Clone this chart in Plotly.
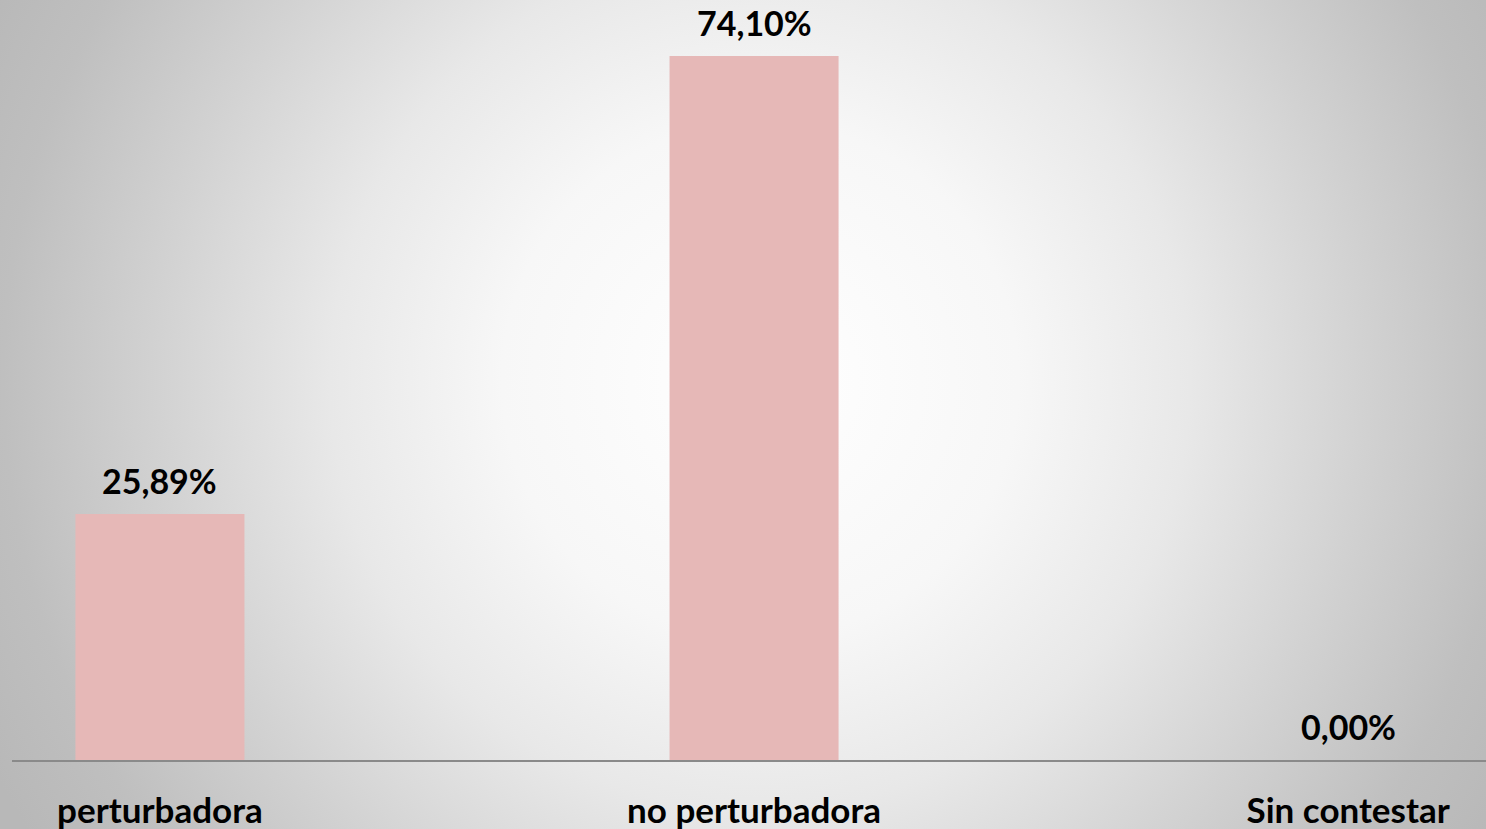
import base64
import plotly.graph_objects as go

categories = ["perturbadora", "no perturbadora", "Sin contestar"]
values = [25.89, 74.10, 0.00]

W, H = 1486, 829
ML, MR, MT, MB = 12, 0, 0, 69
FONT = "Lato"
BAR_COLOR = "#E6B8B7"

labels = [f"{v:.2f}".replace(".", ",") + "%" for v in values]

svg = f'''<svg xmlns="http://www.w3.org/2000/svg" width="{W}" height="{H}" viewBox="0 0 {W} {H}">
<defs><radialGradient id="g" gradientUnits="userSpaceOnUse" cx="760" cy="380" r="860">
<stop offset="0" stop-color="#FFFFFF"/>
<stop offset="0.3" stop-color="#F7F7F7"/>
<stop offset="0.5" stop-color="#E8E8E8"/>
<stop offset="0.7" stop-color="#D2D2D2"/>
<stop offset="0.88" stop-color="#BFBFBF"/>
<stop offset="1" stop-color="#B8B8B8"/>
</radialGradient></defs>
<rect x="0" y="0" width="{W}" height="{H}" fill="url(#g)"/>
</svg>'''
src = "data:image/svg+xml;base64," + base64.b64encode(svg.encode()).decode()

pw = W - ML - MR
ph = H - MT - MB

fig = go.Figure()
fig.add_trace(go.Bar(
    x=categories, y=values, width=0.2845,
    marker=dict(color=BAR_COLOR, line=dict(width=0)),
    hoverinfo="skip",
))

for c, v, t in zip(categories, values, labels):
    fig.add_annotation(x=c, y=v, text=f"<b>{t}</b>", showarrow=False,
                       yanchor="middle", yshift=34,
                       font=dict(family=FONT, size=34, color="#000000"))

fig.add_layout_image(dict(
    source=src, xref="paper", yref="paper",
    x=-ML / pw, y=1 + MT / ph, sizex=W / pw, sizey=H / ph,
    xanchor="left", yanchor="top", sizing="stretch", layer="below",
))

fig.update_layout(
    width=W, height=H,
    margin=dict(l=ML, r=MR, t=MT, b=MB, pad=0),
    paper_bgcolor="#D8D8D8",
    plot_bgcolor="rgba(0,0,0,0)",
    showlegend=False,
    xaxis=dict(
        type="category", range=[-0.249, 2.232],
        showline=True, linecolor="#8A8A8A", linewidth=1.5,
        showgrid=False, zeroline=False, ticks="",
        tickfont=dict(family=FONT, size=35, color="#000000"),
        ticklabelstandoff=19,
        tickvals=categories, ticktext=[f"<b>{c}</b>" for c in categories],
    ),
    yaxis=dict(range=[0, 80], visible=False, showgrid=False, zeroline=False),
)

fig.write_html("out.html", config={"displayModeBar": False},
               post_script="document.body.style.margin='0';document.body.style.overflow='hidden';")
